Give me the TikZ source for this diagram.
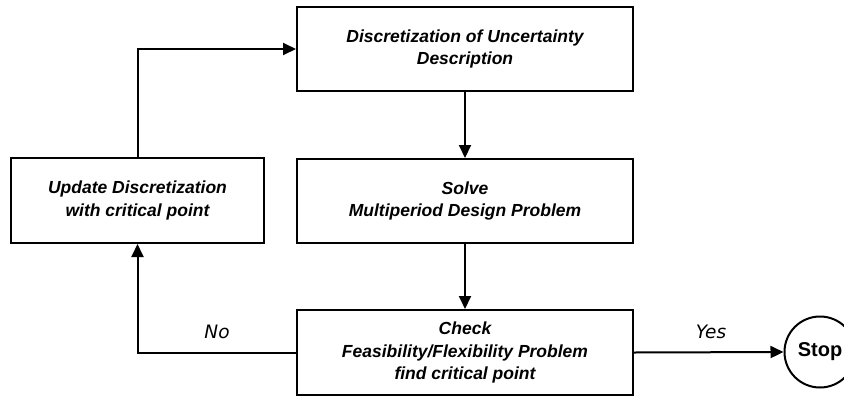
\documentclass[tikz,border=0pt]{standalone}
\usepackage{fontspec}
\setmainfont{Liberation Sans}
\newfontfamily\lblfont{DejaVu Sans}
\usetikzlibrary{arrows.meta}
\begin{document}
\begin{tikzpicture}[x=1pt,y=-1pt,
  box/.style={draw,line width=2pt,minimum width=336pt,minimum height=84pt,inner sep=0pt,align=center,font=\fontsize{17.5}{22.5}\selectfont\bfseries\itshape},
  conn/.style={line width=2pt,-{Triangle[length=13pt,width=12pt]}},
  lbl/.style={font=\lblfont\fontsize{18.5}{22}\selectfont\itshape}]
\useasboundingbox (0,0) rectangle (844,397);
\node[box] (top) at (465,49) {Discretization of Uncertainty\\Description};
\node[box] (mid) at (465,201) {Solve\\Multiperiod Design Problem};
\node[box,minimum height=85pt] (bot) at (465,352.5) {Check\\Feasibility/Flexibility Problem\\find critical point};
\node[box,minimum width=253pt,minimum height=85pt] (upd) at (137.5,200.5) {Update Discretization\\with critical point};
\node[draw,circle,line width=2pt,minimum size=71pt,inner sep=0pt,font=\fontsize{20}{22}\selectfont\bfseries] (stop) at (820,352) {Stop};
\draw[conn] (top.south) -- (mid.north);
\draw[conn] (mid.south) -- (bot.north);
\draw[conn] (bot.west) -- (upd.south |- bot.west) -- (upd.south);
\draw[conn] (upd.north) -- (upd.north |- top.west) -- (top.west);
\draw[conn] (bot.east) -- (stop.west);
\node[lbl] (no) at (217,332) {No};
\node[lbl] (yes) at (711,332) {Yes};
\end{tikzpicture}
\end{document}
